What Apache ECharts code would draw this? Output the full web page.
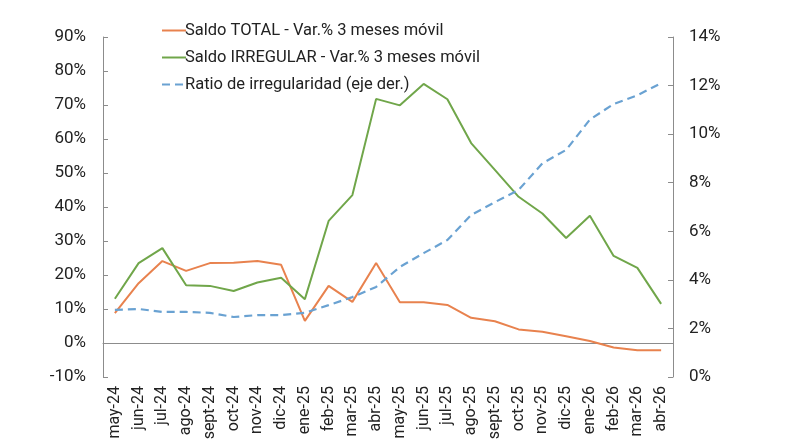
<!DOCTYPE html>
<html>
<head>
<meta charset="utf-8">
<script src="https://cdn.jsdelivr.net/npm/echarts@6/dist/echarts.min.js"></script>
<style>
  html, body { margin: 0; padding: 0; background: #fff; }
  #chart { width: 790px; height: 445px; }
</style>
</head>
<body>
<div id="chart"></div>
<script>
// meses
const months = ['may-24', 'jun-24', 'jul-24', 'ago-24', 'sept-24', 'oct-24', 'nov-24', 'dic-24',
  'ene-25', 'feb-25', 'mar-25', 'abr-25', 'may-25', 'jun-25', 'jul-25', 'ago-25', 'sept-25',
  'oct-25', 'nov-25', 'dic-25', 'ene-26', 'feb-26', 'mar-26', 'abr-26'];

// Saldo TOTAL - Var.% 3 meses móvil
const saldoTotal = [8.8, 17.6, 24.1, 21.2, 23.5, 23.6, 24.1, 23.0, 6.5, 16.8, 12.1, 23.5,
  12.0, 12.0, 11.2, 7.4, 6.4, 4.0, 3.3, 2.0, 0.6, -1.3, -2.1, -2.1];

// Saldo IRREGULAR - Var.% 3 meses móvil
const saldoIrregular = [13.0, 23.5, 27.9, 17.0, 16.8, 15.3, 17.8, 19.2, 12.9, 35.9, 43.5, 71.8,
  69.9, 76.2, 71.7, 58.8, 50.9, 43.0, 38.1, 30.9, 37.4, 25.6, 22.1, 11.5];

// Ratio de irregularidad (eje derecho)
const ratioIrreg = [2.76, 2.8, 2.68, 2.68, 2.64, 2.47, 2.55, 2.55, 2.64, 2.96, 3.29, 3.71,
  4.53, 5.1, 5.64, 6.67, 7.2, 7.7, 8.8, 9.35, 10.6, 11.24, 11.6, 12.1];

const txt = '#222';
const axisCol = '#8c8c8c';

const myChart = echarts.init(document.getElementById('chart'));
myChart.setOption({
  animation: false,
  textStyle: { fontFamily: 'Roboto, sans-serif' },
  grid: { left: 103, right: 117, top: 37, bottom: 68 },
  legend: {
    orient: 'vertical',
    left: 156,
    top: 17,
    itemWidth: 24,
    itemHeight: 14,
    itemGap: 10,
    itemStyle: { opacity: 0 },
    textStyle: { color: txt, fontSize: 16.5, padding: [0, 0, 0, -6] },
    data: ['Saldo TOTAL - Var.% 3 meses móvil', 'Saldo IRREGULAR - Var.% 3 meses móvil', 'Ratio de irregularidad (eje der.)']
  },
  xAxis: [
    {
      type: 'category',
      data: months,
      axisLine: { onZero: true, lineStyle: { color: axisCol, width: 1 } },
      axisTick: { inside: true, length: 5, lineStyle: { color: axisCol } },
      axisLabel: { show: false },
      splitLine: { show: false }
    },
    {
      type: 'category',
      data: months,
      position: 'bottom',
      axisLine: { show: false },
      axisTick: { show: false },
      axisLabel: { rotate: 90, color: txt, fontSize: 16, margin: 9, interval: 0 }
    }
  ],
  yAxis: [
    {
      type: 'value',
      min: -10,
      max: 90,
      interval: 10,
      axisLine: { show: true, lineStyle: { color: axisCol } },
      axisTick: { show: true, inside: true, length: 5, lineStyle: { color: axisCol } },
      axisLabel: { color: txt, fontSize: 17, margin: 17, formatter: '{value}%' },
      splitLine: { show: false }
    },
    {
      type: 'value',
      min: 0,
      max: 14,
      interval: 2,
      position: 'right',
      axisLine: { show: true, lineStyle: { color: axisCol } },
      axisTick: { show: true, inside: true, length: 5, lineStyle: { color: axisCol } },
      axisLabel: { color: txt, fontSize: 17, margin: 16, formatter: '{value}%' },
      splitLine: { show: false }
    }
  ],
  series: [
    {
      name: 'Saldo TOTAL - Var.% 3 meses móvil',
      type: 'line',
      data: saldoTotal,
      symbol: 'none',
      color: '#e8824e',
      lineStyle: { width: 2, color: '#e8824e' }
    },
    {
      name: 'Saldo IRREGULAR - Var.% 3 meses móvil',
      type: 'line',
      data: saldoIrregular,
      symbol: 'none',
      color: '#70a64a',
      lineStyle: { width: 2, color: '#70a64a' }
    },
    {
      name: 'Ratio de irregularidad (eje der.)',
      type: 'line',
      yAxisIndex: 1,
      data: ratioIrreg,
      symbol: 'none',
      color: '#6aa2d2',
      lineStyle: { width: 2.2, color: '#6aa2d2', type: [8, 5] }
    }
  ]
});

window.addEventListener('resize', () => myChart.resize());
</script>
</body>
</html>
